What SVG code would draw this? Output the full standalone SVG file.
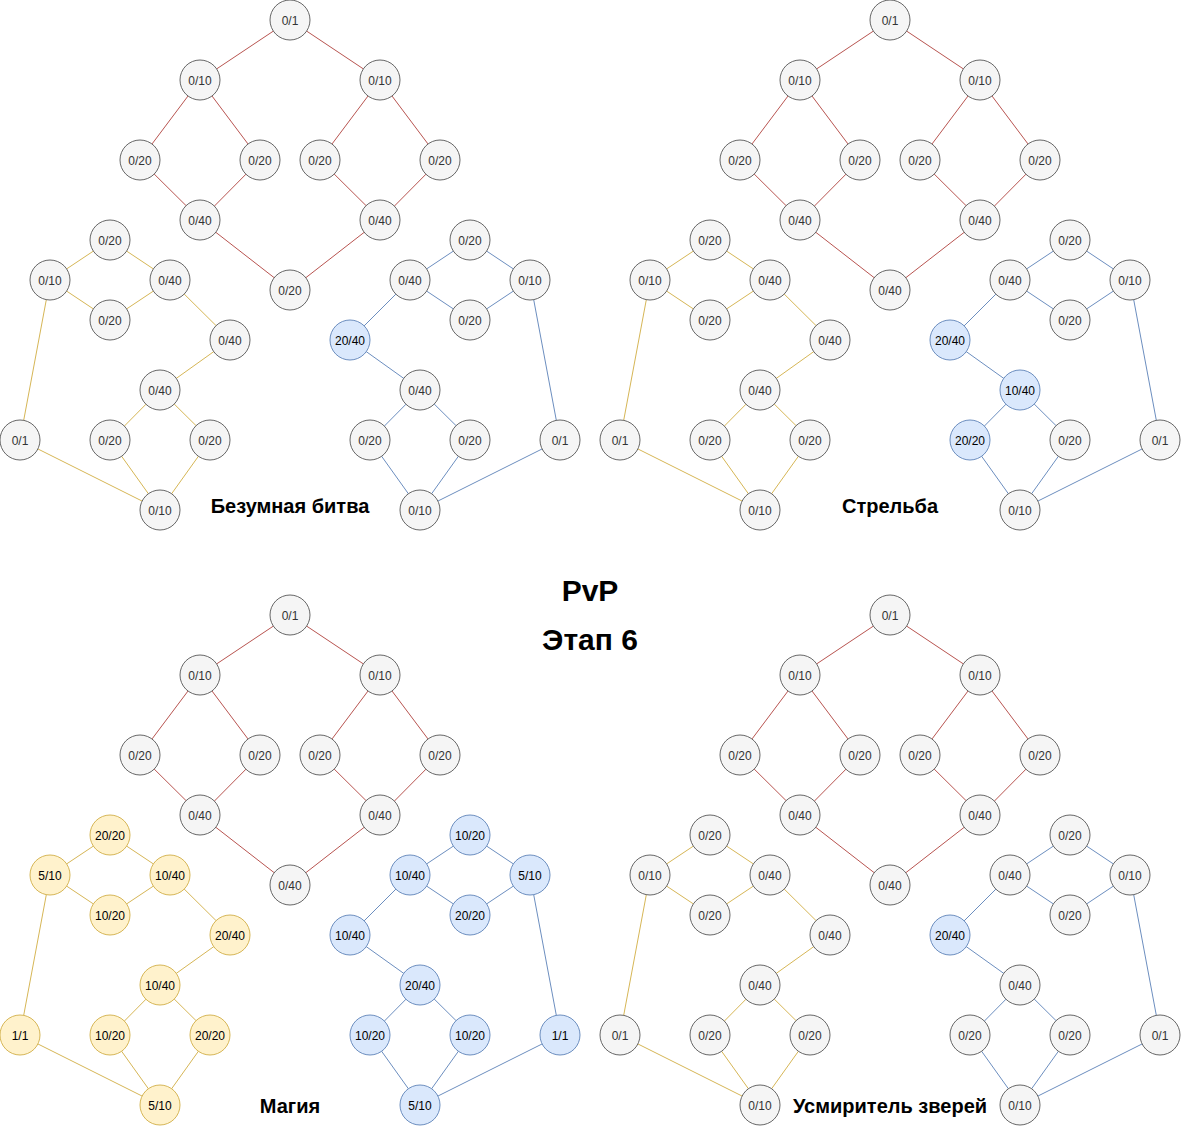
<svg xmlns="http://www.w3.org/2000/svg" width="1182" height="1127" viewBox="0 0 1182 1127">
<style>
.n circle{stroke-width:1}
.n text{font-family:"Liberation Sans",Arial,Helvetica,sans-serif;font-size:12px;text-anchor:middle}
.g circle{fill:#f5f5f5;stroke:#666666}
.g text{fill:#333333}
.y circle{fill:#fff2cc;stroke:#d6b656}
.y text{fill:#000000}
.b circle{fill:#dae8fc;stroke:#6c8ebf}
.b text{fill:#000000}
.er line{stroke:#b85450;stroke-width:1;fill:none}
.ey line{stroke:#d6b656;stroke-width:1;fill:none}
.eb line{stroke:#6c8ebf;stroke-width:1;fill:none}
.lbl{font-family:"Liberation Sans",Arial,Helvetica,sans-serif;font-weight:bold;font-size:20px;text-anchor:middle;fill:#000000}
.ttl{font-family:"Liberation Sans",Arial,Helvetica,sans-serif;font-weight:bold;font-size:30px;text-anchor:middle;fill:#000000}
</style>
<rect width="1182" height="1127" fill="#ffffff"/>
<g id="connectors">
<g id="conn-tl" transform="translate(0,0)">
<g class="er"><line x1="290" y1="20" x2="200" y2="80"/><line x1="290" y1="20" x2="380" y2="80"/><line x1="200" y1="80" x2="140" y2="160"/><line x1="200" y1="80" x2="260" y2="160"/><line x1="380" y1="80" x2="320" y2="160"/><line x1="380" y1="80" x2="440" y2="160"/><line x1="140" y1="160" x2="200.6" y2="220"/><line x1="260" y1="160" x2="200.6" y2="220"/><line x1="320" y1="160" x2="380.6" y2="220"/><line x1="440" y1="160" x2="380.6" y2="220"/><line x1="200" y1="220" x2="290" y2="290"/><line x1="380" y1="220" x2="290" y2="290"/></g>
<g class="ey"><line x1="50" y1="280" x2="110" y2="240"/><line x1="110" y1="240" x2="170" y2="280"/><line x1="50" y1="280" x2="110" y2="320"/><line x1="110" y1="320" x2="170" y2="280"/><line x1="170" y1="280" x2="230.6" y2="340"/><line x1="230" y1="340" x2="160" y2="390"/><line x1="160" y1="390" x2="110.6" y2="440"/><line x1="160" y1="390" x2="210.6" y2="440"/><line x1="110" y1="440" x2="160" y2="510"/><line x1="210" y1="440" x2="160" y2="510"/><line x1="50" y1="280" x2="20" y2="440"/><line x1="20" y1="440" x2="160" y2="510"/></g>
<g class="eb"><line x1="410" y1="280" x2="470" y2="240"/><line x1="470" y1="240" x2="530" y2="280"/><line x1="410" y1="280" x2="470" y2="320"/><line x1="470" y1="320" x2="530" y2="280"/><line x1="410" y1="280" x2="350" y2="340"/><line x1="350" y1="340" x2="420" y2="390"/><line x1="420" y1="390" x2="370.6" y2="440"/><line x1="420" y1="390" x2="470.6" y2="440"/><line x1="370" y1="440" x2="420" y2="510"/><line x1="470" y1="440" x2="420" y2="510"/><line x1="530" y1="280" x2="560" y2="440"/><line x1="560" y1="440" x2="420" y2="510"/></g>
</g>
<g id="conn-tr" transform="translate(600,0)">
<g class="er"><line x1="290" y1="20" x2="200" y2="80"/><line x1="290" y1="20" x2="380" y2="80"/><line x1="200" y1="80" x2="140" y2="160"/><line x1="200" y1="80" x2="260" y2="160"/><line x1="380" y1="80" x2="320" y2="160"/><line x1="380" y1="80" x2="440" y2="160"/><line x1="140" y1="160" x2="200.6" y2="220"/><line x1="260" y1="160" x2="200.6" y2="220"/><line x1="320" y1="160" x2="380.6" y2="220"/><line x1="440" y1="160" x2="380.6" y2="220"/><line x1="200" y1="220" x2="290" y2="290"/><line x1="380" y1="220" x2="290" y2="290"/></g>
<g class="ey"><line x1="50" y1="280" x2="110" y2="240"/><line x1="110" y1="240" x2="170" y2="280"/><line x1="50" y1="280" x2="110" y2="320"/><line x1="110" y1="320" x2="170" y2="280"/><line x1="170" y1="280" x2="230.6" y2="340"/><line x1="230" y1="340" x2="160" y2="390"/><line x1="160" y1="390" x2="110.6" y2="440"/><line x1="160" y1="390" x2="210.6" y2="440"/><line x1="110" y1="440" x2="160" y2="510"/><line x1="210" y1="440" x2="160" y2="510"/><line x1="50" y1="280" x2="20" y2="440"/><line x1="20" y1="440" x2="160" y2="510"/></g>
<g class="eb"><line x1="410" y1="280" x2="470" y2="240"/><line x1="470" y1="240" x2="530" y2="280"/><line x1="410" y1="280" x2="470" y2="320"/><line x1="470" y1="320" x2="530" y2="280"/><line x1="410" y1="280" x2="350" y2="340"/><line x1="350" y1="340" x2="420" y2="390"/><line x1="420" y1="390" x2="370.6" y2="440"/><line x1="420" y1="390" x2="470.6" y2="440"/><line x1="370" y1="440" x2="420" y2="510"/><line x1="470" y1="440" x2="420" y2="510"/><line x1="530" y1="280" x2="560" y2="440"/><line x1="560" y1="440" x2="420" y2="510"/></g>
</g>
<g id="conn-bl" transform="translate(0,595)">
<g class="er"><line x1="290" y1="20" x2="200" y2="80"/><line x1="290" y1="20" x2="380" y2="80"/><line x1="200" y1="80" x2="140" y2="160"/><line x1="200" y1="80" x2="260" y2="160"/><line x1="380" y1="80" x2="320" y2="160"/><line x1="380" y1="80" x2="440" y2="160"/><line x1="140" y1="160" x2="200.6" y2="220"/><line x1="260" y1="160" x2="200.6" y2="220"/><line x1="320" y1="160" x2="380.6" y2="220"/><line x1="440" y1="160" x2="380.6" y2="220"/><line x1="200" y1="220" x2="290" y2="290"/><line x1="380" y1="220" x2="290" y2="290"/></g>
<g class="ey"><line x1="50" y1="280" x2="110" y2="240"/><line x1="110" y1="240" x2="170" y2="280"/><line x1="50" y1="280" x2="110" y2="320"/><line x1="110" y1="320" x2="170" y2="280"/><line x1="170" y1="280" x2="230.6" y2="340"/><line x1="230" y1="340" x2="160" y2="390"/><line x1="160" y1="390" x2="110.6" y2="440"/><line x1="160" y1="390" x2="210.6" y2="440"/><line x1="110" y1="440" x2="160" y2="510"/><line x1="210" y1="440" x2="160" y2="510"/><line x1="50" y1="280" x2="20" y2="440"/><line x1="20" y1="440" x2="160" y2="510"/></g>
<g class="eb"><line x1="410" y1="280" x2="470" y2="240"/><line x1="470" y1="240" x2="530" y2="280"/><line x1="410" y1="280" x2="470" y2="320"/><line x1="470" y1="320" x2="530" y2="280"/><line x1="410" y1="280" x2="350" y2="340"/><line x1="350" y1="340" x2="420" y2="390"/><line x1="420" y1="390" x2="370.6" y2="440"/><line x1="420" y1="390" x2="470.6" y2="440"/><line x1="370" y1="440" x2="420" y2="510"/><line x1="470" y1="440" x2="420" y2="510"/><line x1="530" y1="280" x2="560" y2="440"/><line x1="560" y1="440" x2="420" y2="510"/></g>
</g>
<g id="conn-br" transform="translate(600,595)">
<g class="er"><line x1="290" y1="20" x2="200" y2="80"/><line x1="290" y1="20" x2="380" y2="80"/><line x1="200" y1="80" x2="140" y2="160"/><line x1="200" y1="80" x2="260" y2="160"/><line x1="380" y1="80" x2="320" y2="160"/><line x1="380" y1="80" x2="440" y2="160"/><line x1="140" y1="160" x2="200.6" y2="220"/><line x1="260" y1="160" x2="200.6" y2="220"/><line x1="320" y1="160" x2="380.6" y2="220"/><line x1="440" y1="160" x2="380.6" y2="220"/><line x1="200" y1="220" x2="290" y2="290"/><line x1="380" y1="220" x2="290" y2="290"/></g>
<g class="ey"><line x1="50" y1="280" x2="110" y2="240"/><line x1="110" y1="240" x2="170" y2="280"/><line x1="50" y1="280" x2="110" y2="320"/><line x1="110" y1="320" x2="170" y2="280"/><line x1="170" y1="280" x2="230.6" y2="340"/><line x1="230" y1="340" x2="160" y2="390"/><line x1="160" y1="390" x2="110.6" y2="440"/><line x1="160" y1="390" x2="210.6" y2="440"/><line x1="110" y1="440" x2="160" y2="510"/><line x1="210" y1="440" x2="160" y2="510"/><line x1="50" y1="280" x2="20" y2="440"/><line x1="20" y1="440" x2="160" y2="510"/></g>
<g class="eb"><line x1="410" y1="280" x2="470" y2="240"/><line x1="470" y1="240" x2="530" y2="280"/><line x1="410" y1="280" x2="470" y2="320"/><line x1="470" y1="320" x2="530" y2="280"/><line x1="410" y1="280" x2="350" y2="340"/><line x1="350" y1="340" x2="420" y2="390"/><line x1="420" y1="390" x2="370.6" y2="440"/><line x1="420" y1="390" x2="470.6" y2="440"/><line x1="370" y1="440" x2="420" y2="510"/><line x1="470" y1="440" x2="420" y2="510"/><line x1="530" y1="280" x2="560" y2="440"/><line x1="560" y1="440" x2="420" y2="510"/></g>
</g>
</g>

<g id="nodes-tl">
<g id="tl-r1" class="n g" transform="translate(290,20)"><circle r="20"/><text y="5">0/1</text></g>
<g id="tl-r2" class="n g" transform="translate(200,80)"><circle r="20"/><text y="5">0/10</text></g>
<g id="tl-r3" class="n g" transform="translate(380,80)"><circle r="20"/><text y="5">0/10</text></g>
<g id="tl-r4" class="n g" transform="translate(140,160)"><circle r="20"/><text y="5">0/20</text></g>
<g id="tl-r5" class="n g" transform="translate(260,160)"><circle r="20"/><text y="5">0/20</text></g>
<g id="tl-r6" class="n g" transform="translate(320,160)"><circle r="20"/><text y="5">0/20</text></g>
<g id="tl-r7" class="n g" transform="translate(440,160)"><circle r="20"/><text y="5">0/20</text></g>
<g id="tl-r8" class="n g" transform="translate(200,220)"><circle r="20"/><text y="5">0/40</text></g>
<g id="tl-r9" class="n g" transform="translate(380,220)"><circle r="20"/><text y="5">0/40</text></g>
<g id="tl-r10" class="n g" transform="translate(290,290)"><circle r="20"/><text y="5">0/20</text></g>
<g id="tl-y1" class="n g" transform="translate(110,240)"><circle r="20"/><text y="5">0/20</text></g>
<g id="tl-y2" class="n g" transform="translate(50,280)"><circle r="20"/><text y="5">0/10</text></g>
<g id="tl-y3" class="n g" transform="translate(170,280)"><circle r="20"/><text y="5">0/40</text></g>
<g id="tl-y4" class="n g" transform="translate(110,320)"><circle r="20"/><text y="5">0/20</text></g>
<g id="tl-y5" class="n g" transform="translate(230,340)"><circle r="20"/><text y="5">0/40</text></g>
<g id="tl-y6" class="n g" transform="translate(160,390)"><circle r="20"/><text y="5">0/40</text></g>
<g id="tl-y7" class="n g" transform="translate(20,440)"><circle r="20"/><text y="5">0/1</text></g>
<g id="tl-y8" class="n g" transform="translate(110,440)"><circle r="20"/><text y="5">0/20</text></g>
<g id="tl-y9" class="n g" transform="translate(210,440)"><circle r="20"/><text y="5">0/20</text></g>
<g id="tl-y10" class="n g" transform="translate(160,510)"><circle r="20"/><text y="5">0/10</text></g>
<g id="tl-b1" class="n g" transform="translate(470,240)"><circle r="20"/><text y="5">0/20</text></g>
<g id="tl-b2" class="n g" transform="translate(410,280)"><circle r="20"/><text y="5">0/40</text></g>
<g id="tl-b3" class="n g" transform="translate(530,280)"><circle r="20"/><text y="5">0/10</text></g>
<g id="tl-b4" class="n g" transform="translate(470,320)"><circle r="20"/><text y="5">0/20</text></g>
<g id="tl-b5" class="n b" transform="translate(350,340)"><circle r="20"/><text y="5">20/40</text></g>
<g id="tl-b6" class="n g" transform="translate(420,390)"><circle r="20"/><text y="5">0/40</text></g>
<g id="tl-b7" class="n g" transform="translate(370,440)"><circle r="20"/><text y="5">0/20</text></g>
<g id="tl-b8" class="n g" transform="translate(470,440)"><circle r="20"/><text y="5">0/20</text></g>
<g id="tl-b9" class="n g" transform="translate(560,440)"><circle r="20"/><text y="5">0/1</text></g>
<g id="tl-b10" class="n g" transform="translate(420,510)"><circle r="20"/><text y="5">0/10</text></g>
<text id="tl-label" class="lbl" x="290" y="513">Безумная битва</text>
</g>

<g id="nodes-tr">
<g id="tr-r1" class="n g" transform="translate(890,20)"><circle r="20"/><text y="5">0/1</text></g>
<g id="tr-r2" class="n g" transform="translate(800,80)"><circle r="20"/><text y="5">0/10</text></g>
<g id="tr-r3" class="n g" transform="translate(980,80)"><circle r="20"/><text y="5">0/10</text></g>
<g id="tr-r4" class="n g" transform="translate(740,160)"><circle r="20"/><text y="5">0/20</text></g>
<g id="tr-r5" class="n g" transform="translate(860,160)"><circle r="20"/><text y="5">0/20</text></g>
<g id="tr-r6" class="n g" transform="translate(920,160)"><circle r="20"/><text y="5">0/20</text></g>
<g id="tr-r7" class="n g" transform="translate(1040,160)"><circle r="20"/><text y="5">0/20</text></g>
<g id="tr-r8" class="n g" transform="translate(800,220)"><circle r="20"/><text y="5">0/40</text></g>
<g id="tr-r9" class="n g" transform="translate(980,220)"><circle r="20"/><text y="5">0/40</text></g>
<g id="tr-r10" class="n g" transform="translate(890,290)"><circle r="20"/><text y="5">0/40</text></g>
<g id="tr-y1" class="n g" transform="translate(710,240)"><circle r="20"/><text y="5">0/20</text></g>
<g id="tr-y2" class="n g" transform="translate(650,280)"><circle r="20"/><text y="5">0/10</text></g>
<g id="tr-y3" class="n g" transform="translate(770,280)"><circle r="20"/><text y="5">0/40</text></g>
<g id="tr-y4" class="n g" transform="translate(710,320)"><circle r="20"/><text y="5">0/20</text></g>
<g id="tr-y5" class="n g" transform="translate(830,340)"><circle r="20"/><text y="5">0/40</text></g>
<g id="tr-y6" class="n g" transform="translate(760,390)"><circle r="20"/><text y="5">0/40</text></g>
<g id="tr-y7" class="n g" transform="translate(620,440)"><circle r="20"/><text y="5">0/1</text></g>
<g id="tr-y8" class="n g" transform="translate(710,440)"><circle r="20"/><text y="5">0/20</text></g>
<g id="tr-y9" class="n g" transform="translate(810,440)"><circle r="20"/><text y="5">0/20</text></g>
<g id="tr-y10" class="n g" transform="translate(760,510)"><circle r="20"/><text y="5">0/10</text></g>
<g id="tr-b1" class="n g" transform="translate(1070,240)"><circle r="20"/><text y="5">0/20</text></g>
<g id="tr-b2" class="n g" transform="translate(1010,280)"><circle r="20"/><text y="5">0/40</text></g>
<g id="tr-b3" class="n g" transform="translate(1130,280)"><circle r="20"/><text y="5">0/10</text></g>
<g id="tr-b4" class="n g" transform="translate(1070,320)"><circle r="20"/><text y="5">0/20</text></g>
<g id="tr-b5" class="n b" transform="translate(950,340)"><circle r="20"/><text y="5">20/40</text></g>
<g id="tr-b6" class="n b" transform="translate(1020,390)"><circle r="20"/><text y="5">10/40</text></g>
<g id="tr-b7" class="n b" transform="translate(970,440)"><circle r="20"/><text y="5">20/20</text></g>
<g id="tr-b8" class="n g" transform="translate(1070,440)"><circle r="20"/><text y="5">0/20</text></g>
<g id="tr-b9" class="n g" transform="translate(1160,440)"><circle r="20"/><text y="5">0/1</text></g>
<g id="tr-b10" class="n g" transform="translate(1020,510)"><circle r="20"/><text y="5">0/10</text></g>
<text id="tr-label" class="lbl" x="890" y="513">Стрельба</text>
</g>

<g id="title">
<text class="ttl" x="590" y="601">PvP</text>
<text class="ttl" x="590" y="650">Этап 6</text>
</g>

<g id="nodes-bl">
<g id="bl-r1" class="n g" transform="translate(290,615)"><circle r="20"/><text y="5">0/1</text></g>
<g id="bl-r2" class="n g" transform="translate(200,675)"><circle r="20"/><text y="5">0/10</text></g>
<g id="bl-r3" class="n g" transform="translate(380,675)"><circle r="20"/><text y="5">0/10</text></g>
<g id="bl-r4" class="n g" transform="translate(140,755)"><circle r="20"/><text y="5">0/20</text></g>
<g id="bl-r5" class="n g" transform="translate(260,755)"><circle r="20"/><text y="5">0/20</text></g>
<g id="bl-r6" class="n g" transform="translate(320,755)"><circle r="20"/><text y="5">0/20</text></g>
<g id="bl-r7" class="n g" transform="translate(440,755)"><circle r="20"/><text y="5">0/20</text></g>
<g id="bl-r8" class="n g" transform="translate(200,815)"><circle r="20"/><text y="5">0/40</text></g>
<g id="bl-r9" class="n g" transform="translate(380,815)"><circle r="20"/><text y="5">0/40</text></g>
<g id="bl-r10" class="n g" transform="translate(290,885)"><circle r="20"/><text y="5">0/40</text></g>
<g id="bl-y1" class="n y" transform="translate(110,835)"><circle r="20"/><text y="5">20/20</text></g>
<g id="bl-y2" class="n y" transform="translate(50,875)"><circle r="20"/><text y="5">5/10</text></g>
<g id="bl-y3" class="n y" transform="translate(170,875)"><circle r="20"/><text y="5">10/40</text></g>
<g id="bl-y4" class="n y" transform="translate(110,915)"><circle r="20"/><text y="5">10/20</text></g>
<g id="bl-y5" class="n y" transform="translate(230,935)"><circle r="20"/><text y="5">20/40</text></g>
<g id="bl-y6" class="n y" transform="translate(160,985)"><circle r="20"/><text y="5">10/40</text></g>
<g id="bl-y7" class="n y" transform="translate(20,1035)"><circle r="20"/><text y="5">1/1</text></g>
<g id="bl-y8" class="n y" transform="translate(110,1035)"><circle r="20"/><text y="5">10/20</text></g>
<g id="bl-y9" class="n y" transform="translate(210,1035)"><circle r="20"/><text y="5">20/20</text></g>
<g id="bl-y10" class="n y" transform="translate(160,1105)"><circle r="20"/><text y="5">5/10</text></g>
<g id="bl-b1" class="n b" transform="translate(470,835)"><circle r="20"/><text y="5">10/20</text></g>
<g id="bl-b2" class="n b" transform="translate(410,875)"><circle r="20"/><text y="5">10/40</text></g>
<g id="bl-b3" class="n b" transform="translate(530,875)"><circle r="20"/><text y="5">5/10</text></g>
<g id="bl-b4" class="n b" transform="translate(470,915)"><circle r="20"/><text y="5">20/20</text></g>
<g id="bl-b5" class="n b" transform="translate(350,935)"><circle r="20"/><text y="5">10/40</text></g>
<g id="bl-b6" class="n b" transform="translate(420,985)"><circle r="20"/><text y="5">20/40</text></g>
<g id="bl-b7" class="n b" transform="translate(370,1035)"><circle r="20"/><text y="5">10/20</text></g>
<g id="bl-b8" class="n b" transform="translate(470,1035)"><circle r="20"/><text y="5">10/20</text></g>
<g id="bl-b9" class="n b" transform="translate(560,1035)"><circle r="20"/><text y="5">1/1</text></g>
<g id="bl-b10" class="n b" transform="translate(420,1105)"><circle r="20"/><text y="5">5/10</text></g>
<text id="bl-label" class="lbl" x="290" y="1113">Магия</text>
</g>

<g id="nodes-br">
<g id="br-r1" class="n g" transform="translate(890,615)"><circle r="20"/><text y="5">0/1</text></g>
<g id="br-r2" class="n g" transform="translate(800,675)"><circle r="20"/><text y="5">0/10</text></g>
<g id="br-r3" class="n g" transform="translate(980,675)"><circle r="20"/><text y="5">0/10</text></g>
<g id="br-r4" class="n g" transform="translate(740,755)"><circle r="20"/><text y="5">0/20</text></g>
<g id="br-r5" class="n g" transform="translate(860,755)"><circle r="20"/><text y="5">0/20</text></g>
<g id="br-r6" class="n g" transform="translate(920,755)"><circle r="20"/><text y="5">0/20</text></g>
<g id="br-r7" class="n g" transform="translate(1040,755)"><circle r="20"/><text y="5">0/20</text></g>
<g id="br-r8" class="n g" transform="translate(800,815)"><circle r="20"/><text y="5">0/40</text></g>
<g id="br-r9" class="n g" transform="translate(980,815)"><circle r="20"/><text y="5">0/40</text></g>
<g id="br-r10" class="n g" transform="translate(890,885)"><circle r="20"/><text y="5">0/40</text></g>
<g id="br-y1" class="n g" transform="translate(710,835)"><circle r="20"/><text y="5">0/20</text></g>
<g id="br-y2" class="n g" transform="translate(650,875)"><circle r="20"/><text y="5">0/10</text></g>
<g id="br-y3" class="n g" transform="translate(770,875)"><circle r="20"/><text y="5">0/40</text></g>
<g id="br-y4" class="n g" transform="translate(710,915)"><circle r="20"/><text y="5">0/20</text></g>
<g id="br-y5" class="n g" transform="translate(830,935)"><circle r="20"/><text y="5">0/40</text></g>
<g id="br-y6" class="n g" transform="translate(760,985)"><circle r="20"/><text y="5">0/40</text></g>
<g id="br-y7" class="n g" transform="translate(620,1035)"><circle r="20"/><text y="5">0/1</text></g>
<g id="br-y8" class="n g" transform="translate(710,1035)"><circle r="20"/><text y="5">0/20</text></g>
<g id="br-y9" class="n g" transform="translate(810,1035)"><circle r="20"/><text y="5">0/20</text></g>
<g id="br-y10" class="n g" transform="translate(760,1105)"><circle r="20"/><text y="5">0/10</text></g>
<g id="br-b1" class="n g" transform="translate(1070,835)"><circle r="20"/><text y="5">0/20</text></g>
<g id="br-b2" class="n g" transform="translate(1010,875)"><circle r="20"/><text y="5">0/40</text></g>
<g id="br-b3" class="n g" transform="translate(1130,875)"><circle r="20"/><text y="5">0/10</text></g>
<g id="br-b4" class="n g" transform="translate(1070,915)"><circle r="20"/><text y="5">0/20</text></g>
<g id="br-b5" class="n b" transform="translate(950,935)"><circle r="20"/><text y="5">20/40</text></g>
<g id="br-b6" class="n g" transform="translate(1020,985)"><circle r="20"/><text y="5">0/40</text></g>
<g id="br-b7" class="n g" transform="translate(970,1035)"><circle r="20"/><text y="5">0/20</text></g>
<g id="br-b8" class="n g" transform="translate(1070,1035)"><circle r="20"/><text y="5">0/20</text></g>
<g id="br-b9" class="n g" transform="translate(1160,1035)"><circle r="20"/><text y="5">0/1</text></g>
<g id="br-b10" class="n g" transform="translate(1020,1105)"><circle r="20"/><text y="5">0/10</text></g>
<text id="br-label" class="lbl" x="890" y="1113">Усмиритель зверей</text>
</g>
</svg>
